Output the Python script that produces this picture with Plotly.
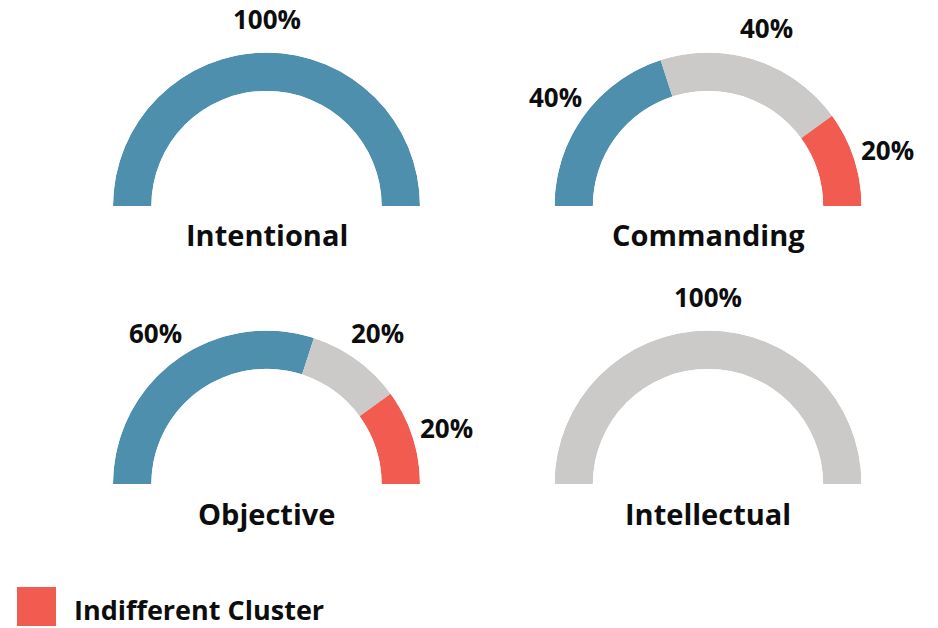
import math
import plotly.graph_objects as go

# Share of each cluster per style (percent)
styles = ["Intentional", "Commanding", "Objective", "Intellectual"]
blue_share = [100, 40, 60, 0]
gray_share = [0, 40, 20, 100]
red_share = [0, 20, 20, 0]

cluster_colors = ["#4E8FAD", "#CBCAC8", "#F25C50"]
legend_label = "Indifferent Cluster"

W, H = 938, 628
R = 153.5          # gauge outer radius (px)
LABEL_R = 189      # distance of percent labels from centre (px)
centers = [(266.5, 206), (708, 206), (266.5, 484), (708, 484)]
FONT = "Open Sans"
TEXT_COLOR = "#0d0d0d"

fig = go.Figure()
annotations = []
layout_polars = {}

for i, name in enumerate(styles):
    cx, cy = centers[i]
    vals = [blue_share[i], gray_share[i], red_share[i]]
    total = sum(vals)
    pname = "polar" if i == 0 else f"polar{i + 1}"
    thetas, widths, colors = [], [], []
    start = 0
    for v, c in zip(vals, cluster_colors):
        if v > 0:
            thetas.append((start + v / 2) / total * 180)
            widths.append(v / total * 180)
            colors.append(c)
        start += v
    fig.add_trace(go.Barpolar(
        r=[1] * len(thetas), theta=thetas, width=widths,
        marker=dict(color=colors, line=dict(width=0)),
        hoverinfo="skip", showlegend=False, subplot=pname,
    ))
    layout_polars[pname] = dict(
        domain=dict(x=[(cx - R) / W, (cx + R) / W],
                    y=[(H - cy) / H, (H - cy + R) / H]),
        sector=[0, 180], hole=0.75, bgcolor="rgba(0,0,0,0)",
        angularaxis=dict(visible=False, rotation=180, direction="clockwise"),
        radialaxis=dict(visible=False, range=[0, 1]),
    )
    # percent labels at the mid-angle of each segment
    for v, th in zip([x for x in vals if x > 0], thetas):
        ang = math.radians(180 - th)
        px = cx + LABEL_R * math.cos(ang)
        py = cy - LABEL_R * math.sin(ang)
        annotations.append(dict(
            x=px / W, y=1 - py / H, xref="paper", yref="paper",
            text=f"<b>{v}%</b>", showarrow=False, yshift=-2,
            font=dict(family=FONT, size=26, color=TEXT_COLOR),
            xanchor="center", yanchor="middle"))
    annotations.append(dict(
        x=cx / W, y=1 - (cy + 29) / H, xref="paper", yref="paper",
        text=f"<b>{name}</b>", showarrow=False,
        font=dict(family=FONT, size=29, color=TEXT_COLOR),
        xanchor="center", yanchor="middle"))

# legend entry
annotations.append(dict(
    x=73 / W, y=1 - 609 / H, xref="paper", yref="paper",
    text=f"<b>{legend_label}</b>", showarrow=False, borderpad=0,
    font=dict(family=FONT, size=27, color=TEXT_COLOR),
    xanchor="left", yanchor="middle"))

fig.update_layout(
    width=W, height=H,
    margin=dict(l=0, r=0, t=0, b=0),
    paper_bgcolor="white", plot_bgcolor="white",
    annotations=annotations,
    shapes=[dict(type="rect", xref="paper", yref="paper",
                 x0=17 / W, x1=56 / W, y0=1 - 626 / H, y1=1 - 587 / H,
                 fillcolor=cluster_colors[2], line=dict(width=0))],
    **layout_polars,
)

fig.write_html("out.html")
